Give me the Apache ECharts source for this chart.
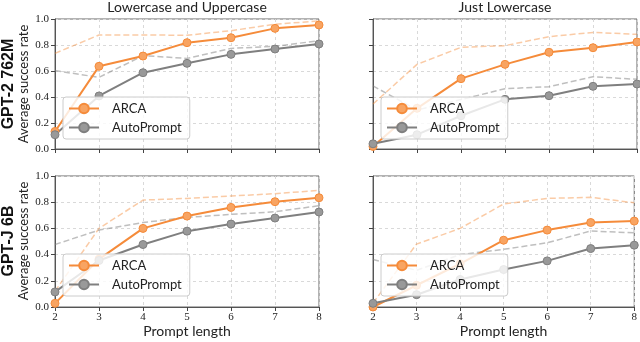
<!DOCTYPE html>
<html>
<head>
<meta charset="utf-8">
<script src="https://cdn.jsdelivr.net/npm/echarts@6/dist/echarts.min.js"></script>
<style>
  html, body { margin: 0; padding: 0; background: #fff; }
  #chart { width: 640px; height: 342px; }
</style>
</head>
<body>
<div id="chart"></div>
<script>
// prompt lengths on the x axis
var promptLengths = [2, 3, 4, 5, 6, 7, 8];
var yTicks = [0, 0.2, 0.4, 0.6, 0.8, 1.0];

// GPT-2 762M, lowercase and uppercase
var gpt2BothArca = [0.135, 0.636, 0.715, 0.818, 0.856, 0.928, 0.954];
var gpt2BothAuto = [0.11, 0.408, 0.587, 0.659, 0.728, 0.769, 0.808];
var gpt2BothArcaDash = [0.736, 0.877, 0.877, 0.875, 0.91, 0.96, 0.985];
var gpt2BothAutoDash = [0.603, 0.551, 0.718, 0.697, 0.774, 0.79, 0.833];

// GPT-2 762M, just lowercase
var gpt2LowerArca = [0.02, 0.313, 0.541, 0.651, 0.744, 0.779, 0.823];
var gpt2LowerAuto = [0.04, 0.11, 0.256, 0.382, 0.41, 0.482, 0.5];
var gpt2LowerArcaDash = [0.346, 0.651, 0.782, 0.795, 0.864, 0.897, 0.882];
var gpt2LowerAutoDash = [0.485, 0.30, 0.38, 0.464, 0.479, 0.556, 0.536];

// GPT-J 6B, lowercase and uppercase
var gptjBothArca = [0.028, 0.365, 0.6, 0.694, 0.76, 0.804, 0.834];
var gptjBothAuto = [0.115, 0.355, 0.477, 0.579, 0.633, 0.679, 0.725];
var gptjBothArcaDash = [0.12, 0.6, 0.816, 0.829, 0.847, 0.865, 0.89];
var gptjBothAutoDash = [0.477, 0.587, 0.645, 0.684, 0.707, 0.727, 0.773];

// GPT-J 6B, just lowercase
var gptjLowerArca = [0.0, 0.166, 0.33, 0.51, 0.587, 0.645, 0.656];
var gptjLowerAuto = [0.028, 0.094, 0.21, 0.286, 0.352, 0.446, 0.472];
var gptjLowerArcaDash = [0.03, 0.48, 0.6, 0.786, 0.829, 0.837, 0.796];
var gptjLowerAutoDash = [0.362, 0.28, 0.4, 0.44, 0.49, 0.58, 0.566];

var colTitles = ['Lowercase and Uppercase', 'Just Lowercase'];
var rowTitles = ['GPT-2 762M', 'GPT-J 6B'];

var ORANGE = '#f58b3a';
var GREY = '#7f7f7f';
var SANS = 'Lato, "DejaVu Sans", sans-serif';
var SERIF = '"Liberation Serif", "DejaVu Serif", serif';

var panels = [
  { left: 55, top: 19, height: 130, data: [gpt2BothArca, gpt2BothAuto, gpt2BothArcaDash, gpt2BothAutoDash] },
  { left: 373, top: 19, height: 130, data: [gpt2LowerArca, gpt2LowerAuto, gpt2LowerArcaDash, gpt2LowerAutoDash] },
  { left: 55, top: 176, height: 131, data: [gptjBothArca, gptjBothAuto, gptjBothArcaDash, gptjBothAutoDash] },
  { left: 373, top: 176, height: 131, data: [gptjLowerArca, gptjLowerAuto, gptjLowerArcaDash, gptjLowerAutoDash] }
];

function pairs(vals) {
  return vals.map(function (v, i) { return [promptLengths[i], v]; });
}

var grids = [], xAxes = [], yAxes = [], series = [], legends = [];

panels.forEach(function (p, i) {
  var isBottom = i >= 2, isLeft = i % 2 === 0;
  grids.push({ left: p.left, top: p.top, width: 264, height: p.height,
    show: true, borderColor: '#666', borderWidth: 1, backgroundColor: 'transparent' });

  xAxes.push({
    gridIndex: i, type: 'value', min: 2, max: 8, interval: 1,
    axisLine: { lineStyle: { color: '#555' } },
    axisTick: { show: true, length: 4, lineStyle: { color: '#444' } },
    axisLabel: { show: isBottom, margin: 5, color: '#222', fontFamily: SERIF, fontSize: 11 },
    splitLine: { show: true, lineStyle: { color: '#d9d9d9', type: [3, 3] } },
    name: isBottom ? 'Prompt length' : '',
    nameLocation: 'middle', nameGap: 17,
    nameTextStyle: { fontFamily: SANS, fontSize: 14, color: '#222' }
  });

  yAxes.push({
    gridIndex: i, type: 'value', min: 0, max: 1, interval: 0.2,
    axisLine: { show: true, lineStyle: { color: '#555' } },
    axisTick: { show: true, length: 4, lineStyle: { color: '#444' } },
    axisLabel: { show: isLeft, margin: 6, color: '#222', fontFamily: SERIF, fontSize: 11,
      formatter: function (v) { return v.toFixed(1); } },
    splitLine: { show: true, lineStyle: { color: '#d9d9d9', type: [3, 3] } }
  });

  // dashed reference curves go first so they sit underneath
  series.push({
    name: 'ARCA dashed', type: 'line', xAxisIndex: i, yAxisIndex: i,
    data: pairs(p.data[2]), showSymbol: false, silent: true,
    lineStyle: { color: 'rgba(245,139,58,0.45)', width: 1.5, type: [6, 3] }
  });
  series.push({
    name: 'AutoPrompt dashed', type: 'line', xAxisIndex: i, yAxisIndex: i,
    data: pairs(p.data[3]), showSymbol: false, silent: true,
    lineStyle: { color: 'rgba(127,127,127,0.5)', width: 1.5, type: [6, 3] }
  });
  series.push({
    name: 'ARCA', type: 'line', xAxisIndex: i, yAxisIndex: i,
    data: pairs(p.data[0]), symbol: 'circle', symbolSize: 8,
    lineStyle: { color: ORANGE, width: 2 },
    itemStyle: { color: '#f8a462', borderColor: ORANGE, borderWidth: 1 }
  });
  series.push({
    name: 'AutoPrompt', type: 'line', xAxisIndex: i, yAxisIndex: i,
    data: pairs(p.data[1]), symbol: 'circle', symbolSize: 8,
    lineStyle: { color: GREY, width: 2 },
    itemStyle: { color: '#999999', borderColor: GREY, borderWidth: 1 }
  });

  legends.push({
    data: ['ARCA', 'AutoPrompt'], orient: 'vertical',
    left: p.left + 8, top: p.top + 78,
    itemWidth: 30, itemHeight: 12, itemGap: 6,
    padding: [5, 8, 5, 5],
    backgroundColor: 'rgba(255,255,255,0.82)',
    borderColor: '#cccccc', borderWidth: 1, borderRadius: 3,
    selectedMode: false,
    textStyle: { fontFamily: SANS, fontSize: 13, color: '#222', padding: [0, 0, 0, 8] }
  });
});

var titles = colTitles.map(function (t, c) {
  return { text: t, left: (c === 0 ? 187 : 505), top: 0, textAlign: 'center', padding: 0,
    textStyle: { fontFamily: SANS, fontSize: 14, fontWeight: 'normal', color: '#222' } };
});

var graphics = [];
rowTitles.forEach(function (t, r) {
  var cy = r === 0 ? 84 : 241;
  graphics.push({ type: 'text', x: 9, y: cy, rotation: Math.PI / 2,
    style: { text: t, font: 'bold 16px "Liberation Sans", Arial, sans-serif',
      fill: '#111', textAlign: 'center', textVerticalAlign: 'middle' } });
  graphics.push({ type: 'text', x: 24, y: cy, rotation: Math.PI / 2,
    style: { text: 'Average success rate', font: '13px ' + SANS,
      fill: '#222', textAlign: 'center', textVerticalAlign: 'middle' } });
});

var chart = echarts.init(document.getElementById('chart'), null, { renderer: 'canvas' });
chart.setOption({
  animation: false,
  backgroundColor: '#fff',
  title: titles,
  grid: grids,
  xAxis: xAxes,
  yAxis: yAxes,
  legend: legends,
  series: series,
  graphic: graphics
});
</script>
</body>
</html>
